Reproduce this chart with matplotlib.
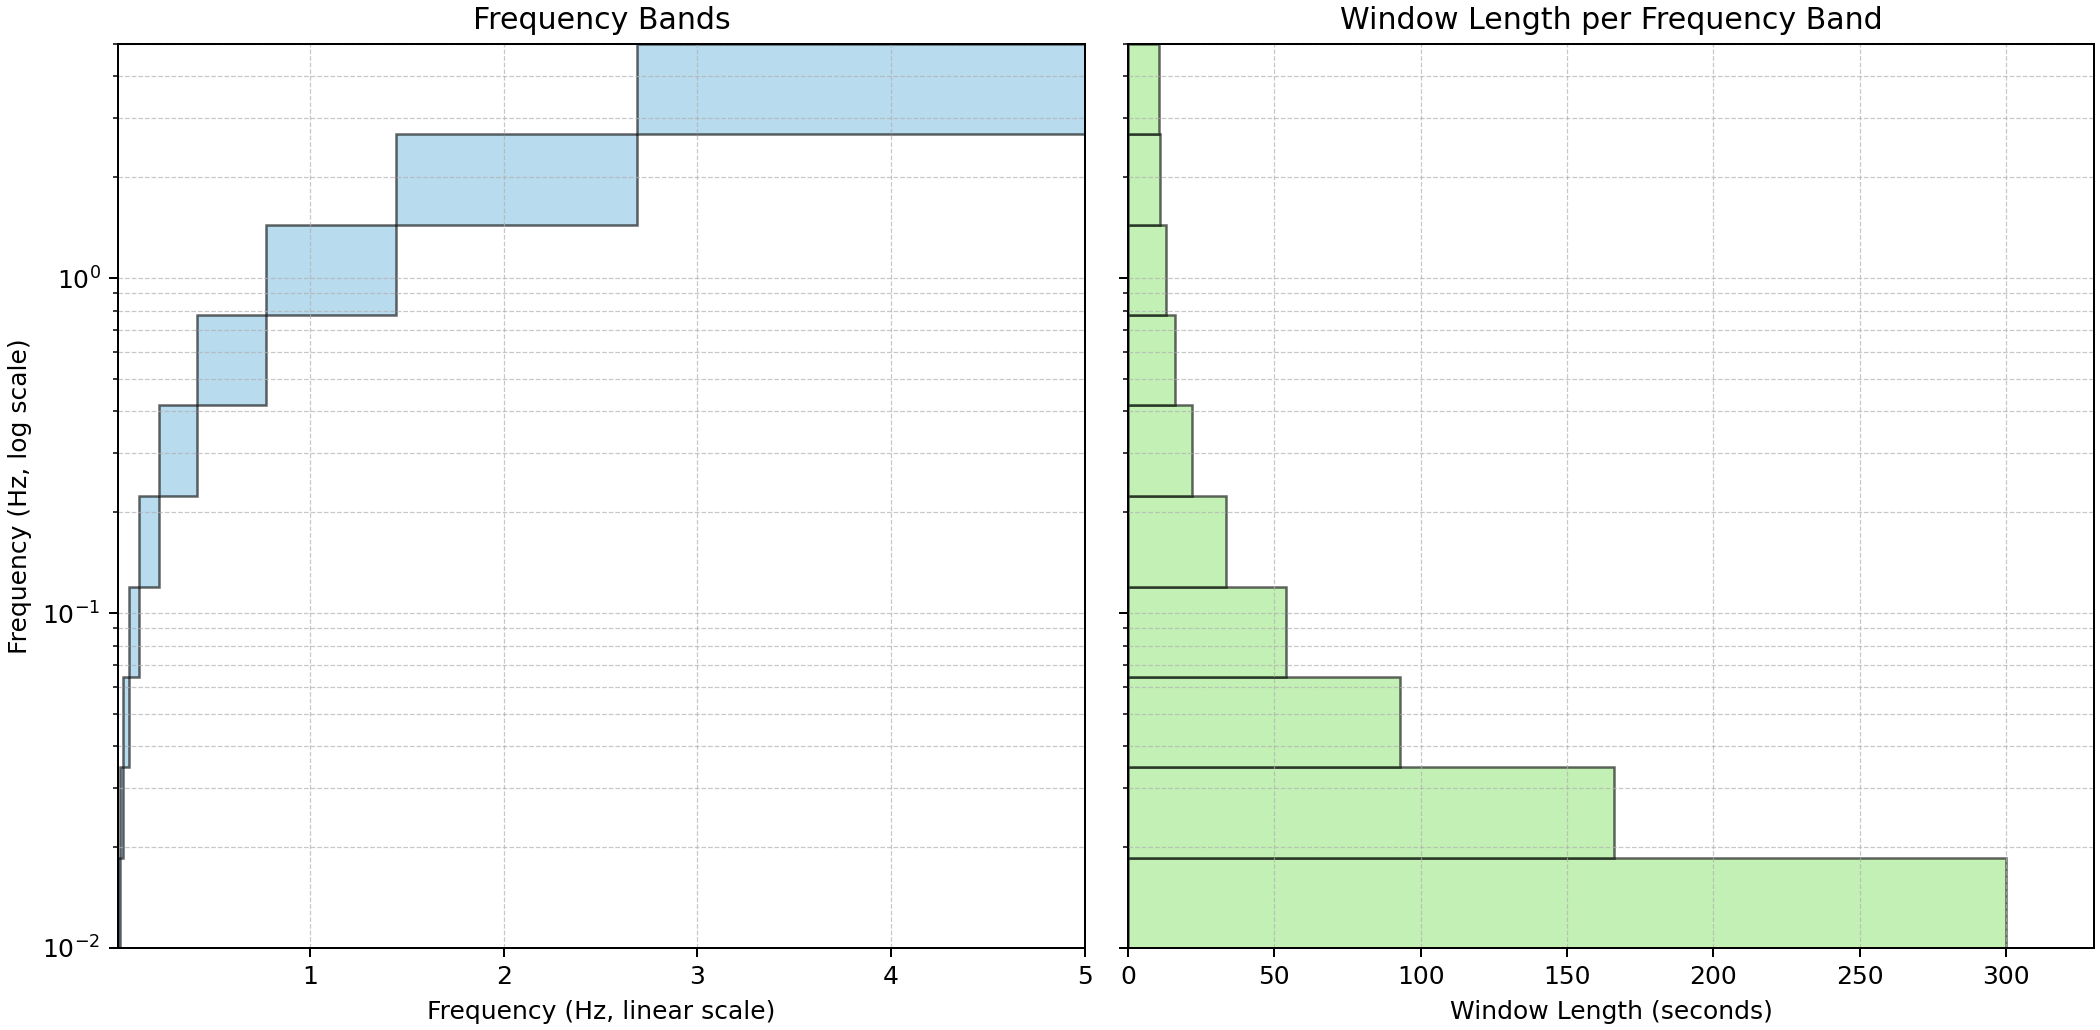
import matplotlib
matplotlib.use("Agg")
import matplotlib.pyplot as plt
import numpy as np

# band edges in Hz (log spaced between 0.01 and 5)
band_edges = [0.01, 0.0186, 0.0347, 0.0646, 0.120, 0.224, 0.417, 0.776, 1.445, 2.69, 5.0]
# analysis window length for each band, seconds
window_lengths = [300, 166, 93, 54, 33.4, 22, 16, 13, 11, 10.6]

f_low = np.array(band_edges[:-1])
f_high = np.array(band_edges[1:])
f_width = f_high - f_low

fig = plt.figure(figsize=(2100 / 180, 1030 / 180), dpi=180)
ax1 = fig.add_axes([118 / 2100, 1 - 948 / 1030, (1085 - 118) / 2100, (948 - 44) / 1030])
ax2 = fig.add_axes([1128 / 2100, 1 - 948 / 1030, (2094 - 1128) / 2100, (948 - 44) / 1030], sharey=ax1)

# frequency bands as squares on the diagonal
ax1.bar(f_low, f_width, width=f_width, bottom=f_low, align='edge',
        facecolor='#8ac3e3', edgecolor='black', alpha=0.6)
ax1.set_yscale('log')
ax1.set_xlim(band_edges[0], band_edges[-1])
ax1.set_ylim(band_edges[0], band_edges[-1])
ax1.set_title('Frequency Bands', fontsize=12)
ax1.set_xlabel('Frequency (Hz, linear scale)')
ax1.set_ylabel('Frequency (Hz, log scale)')
ax1.grid(True, which='both', linestyle='--', linewidth=0.5, alpha=0.7)

# window length for every band
ax2.barh(f_low, window_lengths, height=f_width, align='edge',
         facecolor='#9be685', edgecolor='black', alpha=0.6)
ax2.set_xlim(0, 330)
ax2.set_title('Window Length per Frequency Band', fontsize=12)
ax2.set_xlabel('Window Length (seconds)')
ax2.tick_params(axis='y', which='both', labelleft=False)
ax2.grid(True, which='both', linestyle='--', linewidth=0.5, alpha=0.7)

fig.savefig('out.png', dpi=180)
